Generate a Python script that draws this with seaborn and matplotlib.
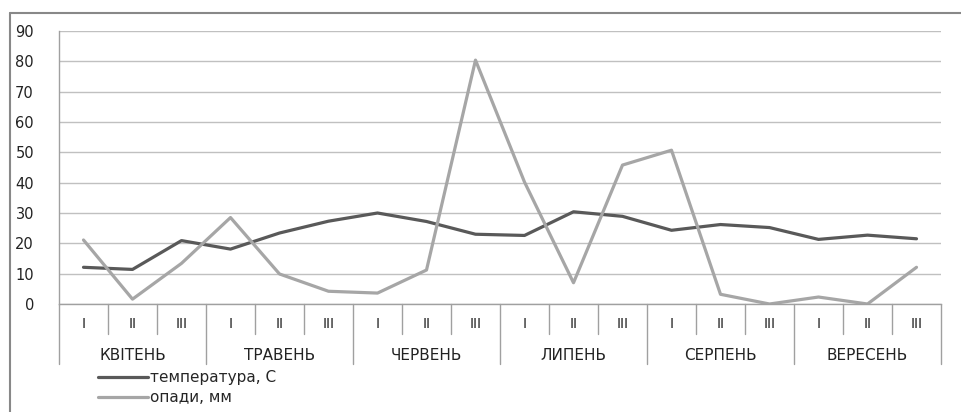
import pandas as pd
import matplotlib
matplotlib.use('Agg')
import matplotlib.pyplot as plt
import seaborn as sns
from matplotlib.lines import Line2D

# DATA
months = ['КВІТЕНЬ', 'ТРАВЕНЬ', 'ЧЕРВЕНЬ', 'ЛИПЕНЬ', 'СЕРПЕНЬ', 'ВЕРЕСЕНЬ']
decades = ['I', 'II', 'III']
temperature = [12.1, 11.4, 20.9, 18.1, 23.4, 27.3, 30.0, 27.2, 23.0,
               22.6, 30.4, 28.9, 24.3, 26.2, 25.2, 21.3, 22.7, 21.5]
precipitation = [21.1, 1.6, 13.4, 28.5, 9.9, 4.2, 3.6, 11.2, 80.4,
                 40.2, 7.0, 45.8, 50.7, 3.2, 0.0, 2.3, 0.0, 12.1]
series_names = ['температура, С', 'опади, мм']
series_colors = ['#595959', '#a6a6a6']

n = len(temperature)
df = pd.DataFrame({
    'idx': list(range(n)) * 2,
    'value': temperature + precipitation,
    'series': [series_names[0]] * n + [series_names[1]] * n,
})

sns.set_style('white')
plt.rcParams['font.family'] = ['DejaVu Sans']

fig = plt.figure(figsize=(9.62, 4.12), dpi=100)
ax = fig.add_axes([59 / 962, 1 - 304 / 412, (941 - 59) / 962, (304 - 31) / 412])

sns.lineplot(data=df, x='idx', y='value', hue='series', palette=series_colors,
             linewidth=2.3, ax=ax, legend=False)

ax.set_xlim(-0.5, n - 0.5)
ax.set_ylim(0, 90)
ax.set_yticks(range(0, 91, 10))
ax.yaxis.grid(True, color='#c0c0c0', linewidth=1)
ax.set_axisbelow(True)
ax.set_xlabel('')
ax.set_ylabel('')
ax.tick_params(axis='y', length=6, width=1, color='#c0c0c0', pad=12,
               labelcolor='#222222')
ax.set_yticklabels([str(v) for v in range(0, 91, 10)], fontsize=10.5)
ax.set_xticks([])

for side in ['top', 'right']:
    ax.spines[side].set_visible(False)
for side in ['left', 'bottom']:
    ax.spines[side].set_color('#a0a0a0')
    ax.spines[side].set_linewidth(1)

# multi-level category axis
trans = ax.get_xaxis_transform()
h = 273.0
for i in range(n + 1):
    big = (i % 3 == 0)
    y_end = -60 / h if big else -30 / h
    ax.plot([i - 0.5, i - 0.5], [0, y_end], color='#a0a0a0', linewidth=1,
            transform=trans, clip_on=False)
for i in range(n):
    ax.text(i, -20 / h, decades[i % 3], transform=trans, ha='center', va='center',
            fontsize=10, color='#222222')
for m, name in enumerate(months):
    ax.text(m * 3 + 1, -51 / h, name, transform=trans, ha='center', va='center',
            fontsize=11, color='#222222')

# legend
handles = [Line2D([0], [0], color=c, linewidth=2.3) for c in series_colors]
fig.legend(handles, series_names, loc='upper left',
           bbox_to_anchor=(98 / 962, 1 - 370 / 412), frameon=False,
           fontsize=11, handlelength=3.3, handletextpad=0.1,
           labelspacing=0.35, borderpad=0, borderaxespad=0)

# outer chart frame
fig.add_artist(Line2D([10 / 962, 1.0], [1 - 13 / 412] * 2, color='#888888',
                      linewidth=1.5, transform=fig.transFigure))
fig.add_artist(Line2D([10 / 962] * 2, [0, 1 - 13 / 412], color='#888888',
                      linewidth=1.5, transform=fig.transFigure))

fig.savefig('out.png', dpi=100)
plt.close(fig)
